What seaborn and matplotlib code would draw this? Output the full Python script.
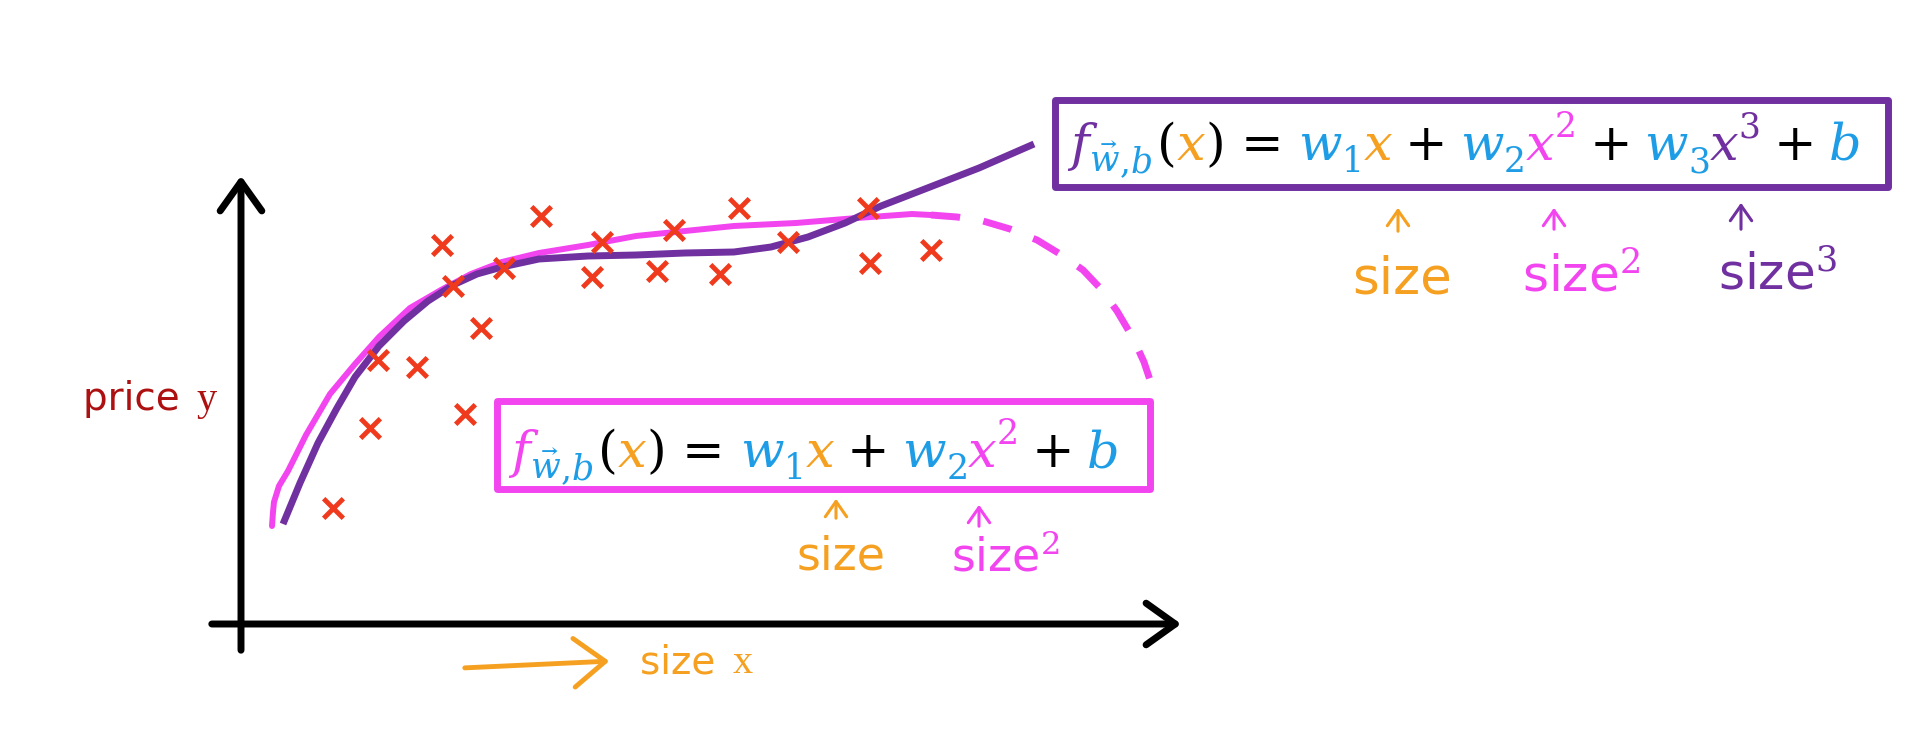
import matplotlib
matplotlib.use("Agg")
import matplotlib.pyplot as plt
import seaborn as sns
from matplotlib.patches import Rectangle

W, H = 1919, 750

# training examples: house size vs price (origin at the corner of the drawn axes)
size = [92, 129, 137, 176, 201, 212, 224, 240, 263, 300,
        351, 361, 416, 433, 479, 498, 547, 627, 629, 690]
price = [116, 196, 264, 257, 379, 338, 210, 296, 356, 408,
         347, 382, 353, 394, 350, 416, 382, 416, 361, 374]

# hand drawn cubic fit (purple)
cubic_size = [42, 59, 77, 96, 114, 138, 163, 187, 212, 236, 261, 298,
              347, 395, 444, 493, 530, 567, 604, 640, 689, 738, 793]
cubic_price = [100, 141, 181, 216, 247, 278, 303, 323, 339, 350, 357, 365,
               368, 369, 371, 372, 377, 387, 401, 418, 437, 456, 480]

# hand drawn quadratic fit (magenta), solid part then dashed part
quad_size = [31, 32, 33, 38, 47, 65, 89, 114, 138, 169, 200, 230, 261,
             298, 347, 395, 444, 493, 555, 616, 671, 690]
quad_price = [98, 112, 122, 138, 153, 189, 230, 260, 287, 316, 334, 350, 362,
              371, 379, 388, 393, 398, 401, 406, 410, 409]
quad_dash_size = [690, 716, 742, 769, 796, 819, 842, 860, 876, 892, 903, 909]
quad_dash_price = [409, 407, 403, 395, 384, 370, 354, 335, 313, 286, 262, 244]

RED = "#ef3a1d"
PURPLE = "#7030a0"
MAGENTA = "#f245f0"
ORANGE = "#f5a020"
BLUE = "#1e9de6"
DARKRED = "#ad1010"

sns.set_theme(style="white")
plt.rcParams["font.family"] = ["DejaVu Sans"]
plt.rcParams["mathtext.fontset"] = "dejavuserif"

fig = plt.figure(figsize=(W / 100, H / 100), dpi=100)
ax = fig.add_axes([0, 0, 1, 1])
ax.set_xlim(-241, W - 241)
ax.set_ylim(624 - H, 624)
ax.axis("off")

# axes with open arrow heads
arrow = dict(arrowstyle="->,head_length=0.7,head_width=0.5", color="black",
             lw=5, mutation_scale=30, capstyle="round", joinstyle="round")
ax.annotate("", xy=(0, 451), xytext=(0, -29), arrowprops=arrow)
ax.annotate("", xy=(943, 0), xytext=(-32, 0), arrowprops=arrow)

# fitted curves
sns.lineplot(x=quad_size, y=quad_price, sort=False, color=MAGENTA, lw=4.3,
             solid_capstyle="round", solid_joinstyle="round", ax=ax)
sns.lineplot(x=quad_dash_size, y=quad_dash_price, sort=False, color=MAGENTA, lw=5,
             linestyle=(0, (4.2, 3.4)), ax=ax)
sns.lineplot(x=cubic_size, y=cubic_price, sort=False, color=PURPLE, lw=5,
             solid_capstyle="butt", solid_joinstyle="round", ax=ax)

# data points
sns.scatterplot(x=size, y=price, marker="x", s=200, color=RED, linewidth=3.5, ax=ax, zorder=5)

# axis labels
fig.text(83 / W, 1 - 410 / H, "price ", color=DARKRED, fontsize=28, va="baseline")
fig.text(196 / W, 1 - 410 / H, "y", color=DARKRED, fontsize=29, va="baseline",
         family="Liberation Serif")
fig.text(640 / W, 1 - 673 / H, "size ", color=ORANGE, fontsize=28, va="baseline")
fig.text(733 / W, 1 - 673 / H, "x", color=ORANGE, fontsize=29, va="baseline",
         family="Liberation Serif")
ax.annotate("", xy=(612, H - 661), xytext=(462, H - 668), xycoords="figure pixels",
            arrowprops=dict(arrowstyle="->,head_length=0.9,head_width=0.7", color=ORANGE,
                            lw=3.5, mutation_scale=25))

# boxes
fig.patches.append(Rectangle((1055 / W, 1 - 187 / H), 833 / W, 87 / H, transform=fig.transFigure,
                             fill=False, ec=PURPLE, lw=5, joinstyle="round"))
fig.patches.append(Rectangle((497 / W, 1 - 489 / H), 653 / W, 88 / H, transform=fig.transFigure,
                             fill=False, ec=MAGENTA, lw=5, joinstyle="round"))

renderer = fig.canvas.get_renderer()


def equation(pieces, x0, base, fs):
    px = fs * 100 / 72
    texts = []
    x = x0
    for txt, color, kind in pieces:
        if kind == "gap":
            x += float(txt) * px
            continue
        small = kind in ("sub", "sup")
        shift = {"main": 0, "sub": -0.24, "sup": 0.45}[kind] * px
        style = "italic" if txt.isalpha() else "normal"
        t = fig.text(x / W, 1 - (base - shift) / H, txt, color=color,
                     fontsize=fs * 0.68 if small else fs, fontstyle=style,
                     va="baseline", ha="left", family="DejaVu Serif")
        texts.append(t)
        x += t.get_window_extent(renderer).width
    return texts, x


def fitted(pieces, x0, x1, base, fs):
    texts, end = equation(pieces, x0, base, fs)
    for t in texts:
        t.remove()
    equation(pieces, x0, base, fs * (x1 - x0) / (end - x0))


head = [("f", None, "main"), (r"$\vec{w}$", BLUE, "sub"), (",", BLUE, "sub"), ("b", BLUE, "sub"),
        ("0.08", None, "gap"), ("(", "black", "main"), ("x", ORANGE, "main"), (")", "black", "main"),
        ("0.3", None, "gap"), ("=", "black", "main"), ("0.3", None, "gap"),
        ("w", BLUE, "main"), ("1", BLUE, "sub"), ("x", ORANGE, "main"),
        ("0.25", None, "gap"), ("+", "black", "main"), ("0.25", None, "gap"),
        ("w", BLUE, "main"), ("2", BLUE, "sub"), ("x", MAGENTA, "main"), ("2", MAGENTA, "sup"),
        ("0.25", None, "gap"), ("+", "black", "main"), ("0.25", None, "gap")]

cubic_eq = [(t, PURPLE if c is None else c, k) for t, c, k in head] + [
    ("w", BLUE, "main"), ("3", BLUE, "sub"), ("x", PURPLE, "main"), ("3", PURPLE, "sup"),
    ("0.25", None, "gap"), ("+", "black", "main"), ("0.25", None, "gap"), ("b", BLUE, "main")]
quad_eq = [(t, MAGENTA if c is None else c, k) for t, c, k in head] + [("b", BLUE, "main")]

fitted(cubic_eq, 1070, 1862, 160, 34)
fitted(quad_eq, 511, 1120, 467, 30)


def note(label, color, x, base, fs, ax_x, tip, tail):
    fig.text(x / W, 1 - base / H, label, color=color, fontsize=fs, va="baseline")
    ax.annotate("", xy=(ax_x, H - tip), xytext=(ax_x, H - tail), xycoords="figure pixels",
                arrowprops=dict(arrowstyle="->,head_length=0.5,head_width=0.35", color=color,
                                lw=2.2, mutation_scale=22))


note("size", ORANGE, 1352, 293, 37, 1398, 205, 234)
note("size$^2$", MAGENTA, 1522, 292, 36, 1554, 205, 232)
note("size$^3$", PURPLE, 1718, 289, 36, 1741, 200, 232)
note("size", ORANGE, 797, 570, 33, 836, 496, 521)
note("size$^2$", MAGENTA, 951, 572, 33, 979, 502, 529)

fig.savefig("out.png", dpi=100)
